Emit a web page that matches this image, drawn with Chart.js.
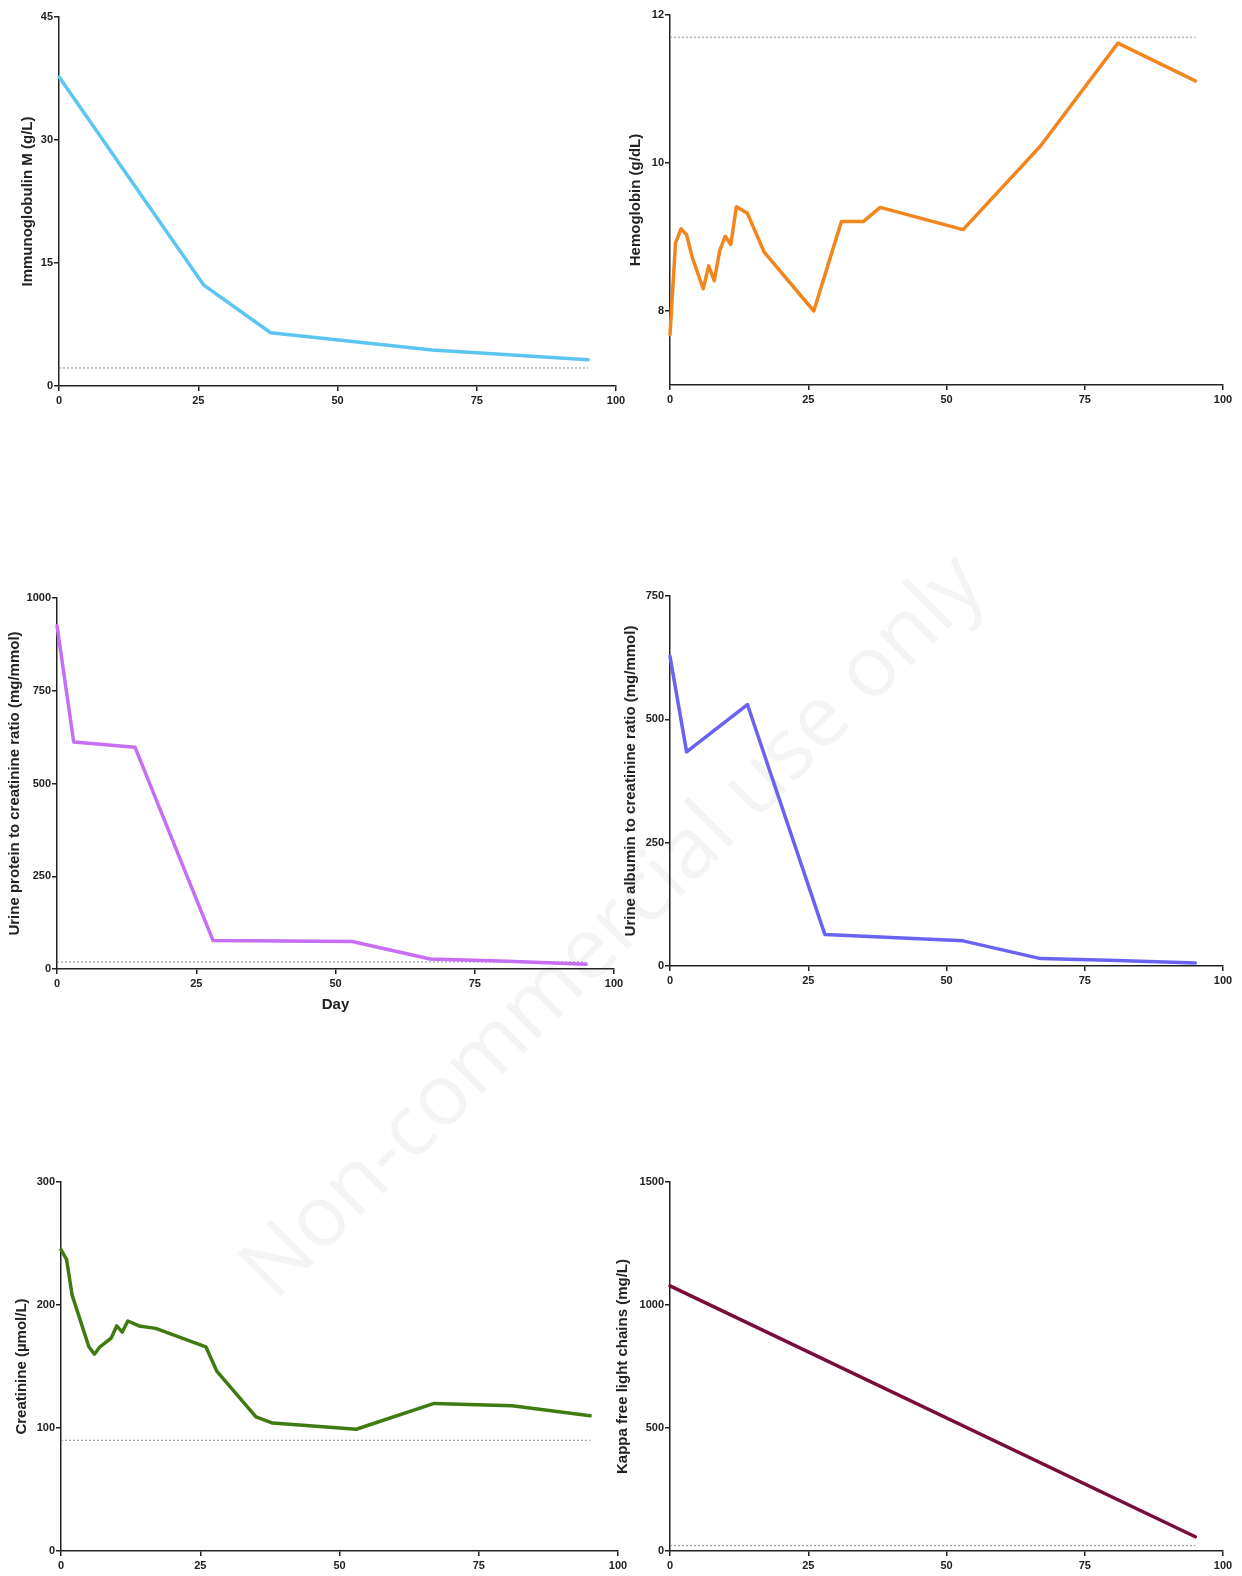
<!DOCTYPE html>
<html><head><meta charset="utf-8">
<script src="https://cdn.jsdelivr.net/npm/chart.js@4.4.1/dist/chart.umd.min.js"></script>
<style>
html,body{margin:0;padding:0;background:#fff;}
body{width:1242px;height:1576px;position:relative;overflow:hidden;}
canvas{position:absolute;}
#wm{position:absolute;left:608px;top:922px;transform:translate(-50%,-50%) rotate(-45deg);font-family:'Open Sans','Liberation Sans',sans-serif;font-size:85px;color:#f4f4f4;white-space:nowrap;}
</style></head><body>
<div id="wm">Non-commercial use only</div>
<script>
// ---- data ----
const xTicks = [0, 25, 50, 75, 100];

const igmDays   = [0, 26, 38, 67, 95];
const igmValues = [37.7, 12.3, 6.5, 4.4, 3.2];
const igmRef    = 2.2;
const igmTicks  = [0, 15, 30, 45];

const hbDays   = [0, 1, 2, 3, 4, 6, 7, 8, 9, 10, 11, 12, 14, 17, 26, 31, 35, 38, 53, 67, 81, 95];
const hbValues = [7.68, 8.92, 9.11, 9.03, 8.73, 8.30, 8.61, 8.41, 8.82, 9.01, 8.90, 9.41, 9.32, 8.80, 8.00, 9.21, 9.21, 9.40, 9.10, 10.23, 11.62, 11.11];
const hbRef    = 11.7;
const hbTicks  = [8, 10, 12];

const upcrDays   = [0, 3, 14, 28, 53, 67, 81, 95];
const upcrValues = [925, 612, 598, 77, 74, 27, 21, 13];
const upcrRef    = 19;
const upcrTicks  = [0, 250, 500, 750, 1000];

const uacrDays   = [0, 3, 14, 28, 53, 67, 81, 95];
const uacrValues = [628, 434, 530, 64, 51, 15, 11, 6];
const uacrTicks  = [0, 250, 500, 750];

const creatDays   = [0, 1, 2, 3, 5, 6, 7, 9, 10, 11, 12, 14, 17, 26, 28, 35, 38, 53, 67, 81, 95];
const creatValues = [245, 237, 208, 194, 166, 160, 166, 173, 183, 178, 187, 183, 181, 166, 146, 109, 104, 99, 120, 118, 110];
const creatRef    = 90;
const creatTicks  = [0, 100, 200, 300];

const kappaDays   = [0, 95];
const kappaValues = [1078, 58];
const kappaRef    = 22;
const kappaTicks  = [0, 500, 1000, 1500];

// ---- layout / style ----
const INK = '#222';
const tickFont = {family: "'Liberation Sans Narrow','Liberation Sans',Arial,sans-serif", weight: 'bold', size: 11};
const titleFont = {family: "'Liberation Sans',Arial,sans-serif", weight: 'bold', size: 15};

const panels = [
  {days: igmDays, vals: igmValues, ref: igmRef, yTicks: igmTicks, min: 0, max: 45, color: '#5cc6f2',
   title: 'Immunoglobulin M (g/L)', cx: 19, L: 59, R: 616, T: 17, B: 386},
  {days: hbDays, vals: hbValues, ref: hbRef, yTicks: hbTicks, min: 7, max: 12, color: '#f2861e',
   title: 'Hemoglobin (g/dL)', cx: 627, L: 670, R: 1223, T: 15, B: 385},
  {days: upcrDays, vals: upcrValues, ref: upcrRef, yTicks: upcrTicks, min: 0, max: 1000, color: '#c66ef5',
   title: 'Urine protein to creatinine ratio (mg/mmol)', cx: 6, L: 57, R: 614, T: 598, B: 969, xTitle: 'Day'},
  {days: uacrDays, vals: uacrValues, ref: null, yTicks: uacrTicks, min: 0, max: 750, color: '#6a62f0',
   title: 'Urine albumin to creatinine ratio (mg/mmol)', cx: 622, L: 670, R: 1223, T: 596, B: 966},
  {days: creatDays, vals: creatValues, ref: creatRef, yTicks: creatTicks, min: 0, max: 300, color: '#3f7b10',
   title: 'Creatinine (\u00b5mol/L)', cx: 13, L: 61, R: 618, T: 1182, B: 1551},
  {days: kappaDays, vals: kappaValues, ref: kappaRef, yTicks: kappaTicks, min: 0, max: 1500, color: '#7a0c3c',
   title: 'Kappa free light chains (mg/L)', cx: 614, L: 670, R: 1223, T: 1182, B: 1551}
];

function makePanel(p) {
  const padTop = 10, padRight = 16;
  const W = p.L - p.cx;
  const H = p.xTitle ? 45 : 30;
  const width = W + (p.R - p.L) + padRight;
  const height = padTop + (p.B - p.T) + H;
  const c = document.createElement('canvas');
  c.style.left = p.cx + 'px';
  c.style.top = (p.T - padTop) + 'px';
  c.style.width = width + 'px';
  c.style.height = height + 'px';
  c.width = width; c.height = height;
  document.body.appendChild(c);

  const datasets = [{
    data: p.days.map((d, i) => ({x: d, y: p.vals[i]})),
    borderColor: p.color, borderWidth: 3.5, pointRadius: 0, fill: false,
    tension: 0, clip: false, order: 0, borderJoinStyle: 'round', borderCapStyle: 'round'
  }];
  if (p.ref !== null) {
    const last = p.days[p.days.length - 1];
    datasets.push({
      data: [{x: 0, y: p.ref}, {x: last, y: p.ref}],
      borderColor: '#8f8f8f', borderWidth: 1, borderDash: [2, 2], pointRadius: 0,
      fill: false, clip: false, order: 1
    });
  }
  const axisCommon = {
    grid: {display: true, drawOnChartArea: false, drawTicks: true, tickLength: 5, color: INK, lineWidth: 1.5},
    border: {display: true, color: INK, width: 1.5}
  };
  const plain = v => String(v);
  new Chart(c, {
    type: 'line',
    data: {datasets},
    options: {
      responsive: false, animation: false, devicePixelRatio: 1,
      layout: {padding: {top: padTop, right: padRight, left: 0, bottom: 0}},
      plugins: {legend: {display: false}, tooltip: {enabled: false}},
      scales: {
        x: Object.assign({}, axisCommon, {
          type: 'linear', min: 0, max: 100,
          afterBuildTicks: s => { s.ticks = xTicks.map(v => ({value: v})); },
          ticks: {font: tickFont, color: INK, padding: 3, maxRotation: 0, autoSkip: false, callback: plain},
          title: p.xTitle ? {display: true, text: p.xTitle, font: titleFont, color: INK, padding: {top: 0, bottom: 0}} : {display: false},
          afterFit: s => { s.height = H; }
        }),
        y: Object.assign({}, axisCommon, {
          type: 'linear', min: p.min, max: p.max,
          afterBuildTicks: s => { s.ticks = p.yTicks.map(v => ({value: v})); },
          ticks: {font: tickFont, color: INK, padding: 1, autoSkip: false, callback: plain},
          title: {display: true, text: p.title, font: titleFont, color: INK, padding: {top: 0, bottom: 0}},
          afterFit: s => { s.width = W; }
        })
      }
    }
  });
}
panels.forEach(makePanel);
</script>
</body></html>
